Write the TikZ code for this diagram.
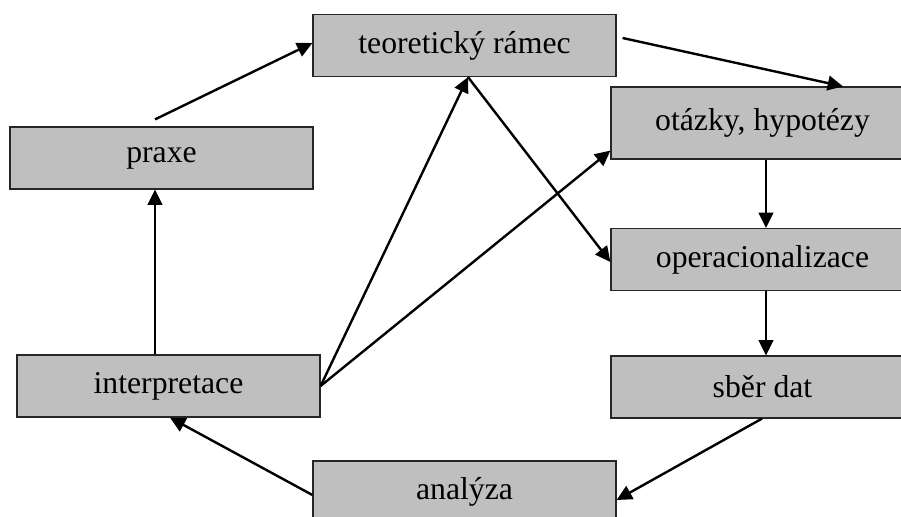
\documentclass[tikz,border=0pt]{standalone}
\usepackage{fontspec}
\setmainfont{Liberation Serif}
\usetikzlibrary{calc, positioning, arrows.meta}

\begin{document}
\begin{tikzpicture}[x=0.75pt, y=-0.75pt,
    box/.style={draw=black!85, line width=0.9pt, fill=black!25, minimum width=227.25pt, minimum height=46.5pt, inner sep=0pt, font=\fontsize{23.8}{28}\selectfont},
    arr/.style={line width=1.8pt, -{Triangle[length=11.5pt,width=11pt]}}]
    \clip (0,0) rectangle (901,517);
    % boxes
    \node[box] (teo) at (464.5,45.5) {teoretický rámec};
    \node[box] (praxe) at (161.5,158) {praxe};
    \node[box] (interp) at (168.5,386) {interpretace};
    \node[box, minimum height=54pt] (otazky) at (762.5,123) {otázky, hypotézy};
    \node[box] (oper) at (762.5,259.5) {operacionalizace};
    \node[box] (sber) at (762.5,387) {sběr dat};
    \node[box] (analyza) at (464.5,492) {analýza};
    % arrows
    \draw[arr] ([shift={(-6.5,-7)}]praxe.north) -- ([shift={(0,-2.5)}]teo.west);
    \draw[arr] ([shift={(-13.5,0)}]interp.north) -- ([shift={(-6.5,0)}]praxe.south);
    \draw[arr] (interp.east) -- ([shift={(3.5,0)}]teo.south);
    \draw[arr] (interp.east) -- ([shift={(0,-9)}]otazky.south west);
    \draw[arr] ([shift={(3.5,0)}]teo.south) -- ([shift={(0,2.5)}]oper.west);
    \draw[arr] ([shift={(6,-7.5)}]teo.east) -- ([shift={(80.5,0)}]otazky.north);
    \draw[arr] ([shift={(3.5,0)}]otazky.south) -- ([shift={(3.5,0)}]oper.north);
    \draw[arr] ([shift={(3.5,0)}]oper.south) -- ([shift={(3.5,0)}]sber.north);
    \draw[arr] ([shift={(-0.5,0)}]sber.south) -- ([shift={(0,8)}]analyza.east);
    \draw[arr] ([shift={(0,3)}]analyza.west) -- ([shift={(1.5,0)}]interp.south);
\end{tikzpicture}
\end{document}
